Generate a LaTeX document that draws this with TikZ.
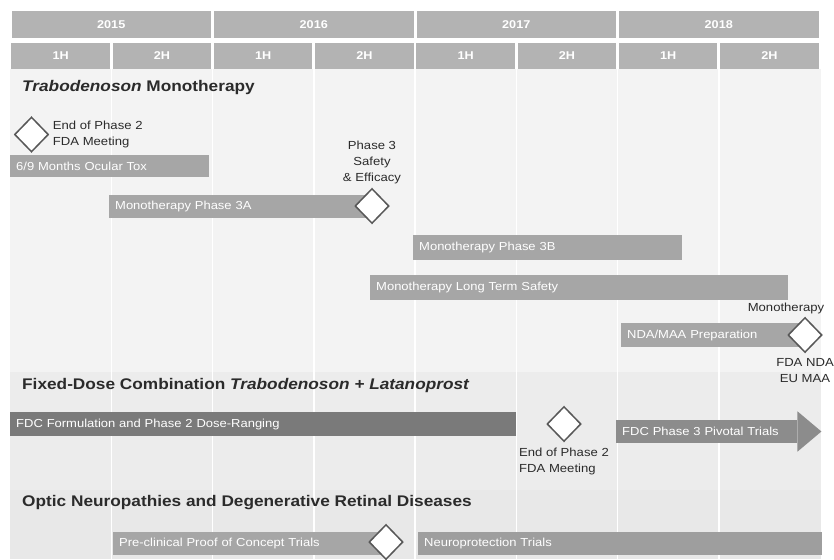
\documentclass[tikz,border=0pt]{standalone}
\usepackage{fontspec}
\setmainfont{Liberation Sans}[FakeStretch=1.12]
\usetikzlibrary{positioning,shapes.geometric,calc}
\definecolor{hdrgray}{HTML}{B3B3B3}
\definecolor{monobg}{HTML}{F3F3F3}
\definecolor{fdcbg}{HTML}{ECECEC}
\definecolor{optbg}{HTML}{E8E8E8}
\definecolor{barlight}{HTML}{A6A6A6}
\definecolor{bardark}{HTML}{7A7A7A}
\definecolor{barmid}{HTML}{8C8C8C}
\definecolor{msline}{HTML}{575757}
\definecolor{txt}{HTML}{2B2B2B}

\begin{document}
\begin{tikzpicture}[
  x=1pt, y=-1pt,
  hdr/.style ={fill=hdrgray, text=white, font=\bfseries\fontsize{11.3}{12}\selectfont,
               inner sep=0pt, minimum height=26pt},
  yr/.style  ={hdr, minimum width=199.5pt, minimum height=27pt},
  half/.style={hdr, minimum width=98.25pt},
  bar/.style ={fill=barlight, text=white, anchor=west, align=left, inner xsep=6pt,
               inner ysep=0pt, minimum height=23pt, font=\fontsize{11.6}{13}\selectfont},
  darkbar/.style={bar, fill=bardark},
  ms/.style  ={diamond, draw=msline, fill=white, line width=1.5pt,
               minimum width=34pt, minimum height=35pt, inner sep=0pt},
  lbl/.style ={text=txt, font=\fontsize{11.7}{16}\selectfont, inner sep=0pt},
  sect/.style={anchor=west, text=txt, font=\bfseries\fontsize{15.4}{18}\selectfont, inner sep=0pt},
]
\useasboundingbox[fill=white] (0,0) rectangle (834,559);

% ---------------- header: years and halves ----------------
\node[yr] (y15) at (111.25,24.5) {2015};
\node[yr] (y16) at (313.75,24.5) {2016};
\node[yr] (y17) at (516.25,24.5) {2017};
\node[yr] (y18) at (718.75,24.5) {2018};
\node[half] (h1) at (60.6,56)  {1H};
\node[half] (h2) at (161.9,56) {2H};
\node[half] (h3) at (263.1,56) {1H};
\node[half] (h4) at (364.4,56) {2H};
\node[half] (h5) at (465.6,56) {1H};
\node[half] (h6) at (566.9,56) {2H};
\node[half] (h7) at (668.1,56) {1H};
\node[half] (h8) at (769.4,56) {2H};

% ---------------- section backgrounds ----------------
\fill[monobg] (10,69)  rectangle (821,372);
\fill[fdcbg]  (10,372) rectangle (821,490);
\fill[optbg]  (10,490) rectangle (821,559);
\draw[white, line width=1.5pt]
  (111.25,69) -- (111.25,559)  (212.5,69) -- (212.5,559)
  (313.75,69) -- (313.75,559)  (415,69) -- (415,559)
  (516.25,69) -- (516.25,559)  (617.5,69) -- (617.5,559)
  (718.75,69) -- (718.75,559);

% ---------------- Trabodenoson monotherapy ----------------
\node[sect] (monotitle) at (22,88) {\textit{Trabodenoson} Monotherapy};
\node[bar, minimum height=22pt, text width=187pt] (tox) at (10,166) {6/9 Months Ocular Tox};
\node[bar, text width=251pt] (ph3a) at (109,206.5) {Monotherapy Phase 3A};
\node[bar, minimum height=25pt, text width=257pt] (ph3b) at (413,247.5) {Monotherapy Phase 3B};
\node[bar, minimum height=25pt, text width=406pt] (lts) at (370,287.5) {Monotherapy Long Term Safety};
\node[bar, minimum height=24pt, text width=172pt] (nda) at (621,335) {NDA/MAA Preparation};

\node[ms] (eop2) at (31.5,134.5) {};
\node[lbl, align=left, right=3.5pt of eop2] (eop2lbl) {End of Phase 2\\FDA Meeting};
\node[ms] (p3se) at (372,206) {};
\node[lbl, align=center, above=4pt of p3se] (p3selbl) {Phase 3\\Safety\\\& Efficacy};
\node[ms] (ndams) at (805,335) {};
\node[lbl, above=2.5pt of ndams, xshift=-19pt] (ndatop) {Monotherapy};
\node[lbl, align=center, below=5pt of ndams] (ndabot) {FDA NDA\\EU MAA};

% ---------------- fixed-dose combination ----------------
\node[sect] (fdctitle) at (22,386) {Fixed-Dose Combination \textit{Trabodenoson + Latanoprost}};
\node[darkbar, minimum height=24pt, text width=494pt] (fdc) at (10,424) {FDC Formulation and Phase 2 Dose-Ranging};
\node[ms] (fdcms) at (564,424) {};
\node[lbl, align=left, below=6pt of fdcms] (fdcmslbl) {End of Phase 2\\FDA Meeting};
\node[bar, fill=barmid, text width=169pt] (piv) at (616,431.5) {FDC Phase 3 Pivotal Trials};
\fill[barmid] ($(piv.north east)+(0,-8.5)$) -- ($(piv.east)+(24,0)$)
  -- ($(piv.south east)+(0,8.5)$) -- cycle;

% ---------------- optic neuropathies ----------------
\node[sect] (opttitle) at (22,503) {Optic Neuropathies and Degenerative Retinal Diseases};
\node[bar, text width=261pt] (poc) at (113,543.5) {Pre-clinical Proof of Concept Trials};
\node[ms] (pocms) at (386,542) {};
\node[bar, fill=barlight!95!black, text width=392pt] (neuro) at (418,543.5) {Neuroprotection Trials};
\end{tikzpicture}
\end{document}
